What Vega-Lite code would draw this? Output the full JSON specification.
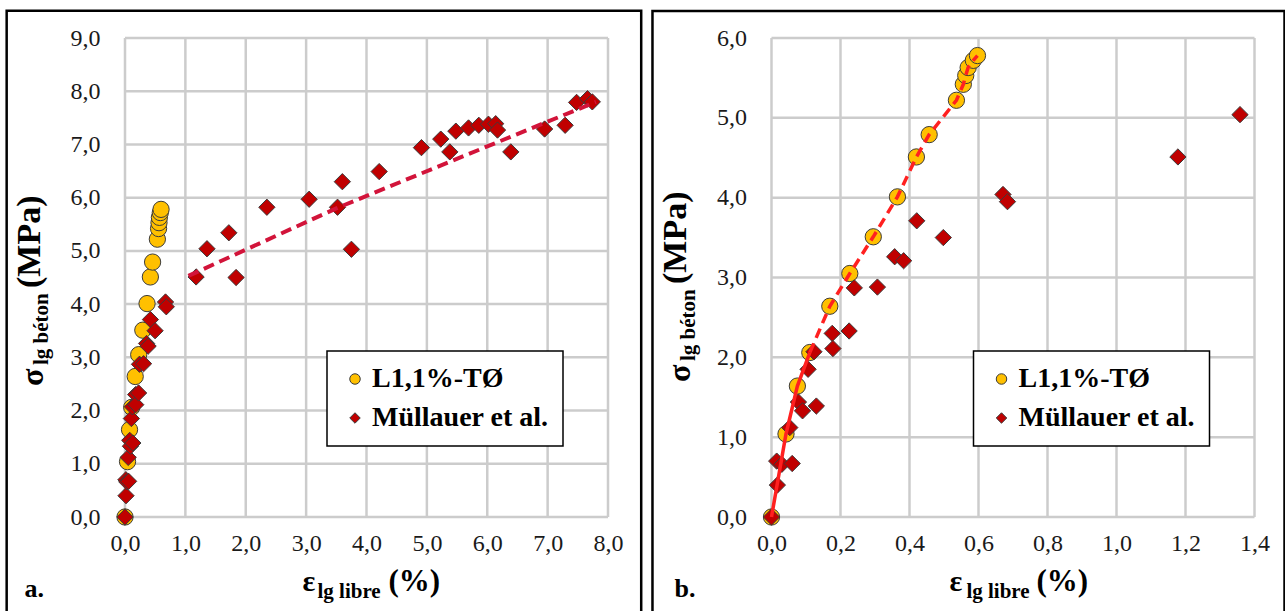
{
  "$schema": "https://vega.github.io/schema/vega-lite/v6.json",
  "padding": {"left": 5, "top": 9, "right": 0, "bottom": 0},
  "background": "white",
  "config": {
    "locale": {"number": {"decimal": ",", "thousands": ".", "grouping": [3], "currency": ["", " €"]}},
    "view": {"stroke": null},
    "axis": {"labelFont": "Liberation Serif", "labelFontSize": 24, "labelColor": "#1a1a1a", "grid": false, "domain": false, "ticks": false, "labelFlush": false, "labelOverlap": false},
    "legend": {"strokeColor": "#000", "strokeWidth": 1.5, "fillColor": "#ffffff", "padding": 14, "labelFont": "Liberation Serif", "labelFontSize": 28, "labelFontWeight": "bold", "labelColor": "#000", "labelLimit": 400, "symbolSize": 110, "symbolStrokeColor": "#3b3b3b", "symbolStrokeWidth": 1, "rowPadding": 11, "labelOffset": 3},
    "text": {"font": "Liberation Serif", "fontWeight": "bold", "color": "#000"}
  },
  "datasets": {
    "pts": [
      {"x": 0, "y": 0, "serie": "L1,1%-TØ"},
      {"x": 0.042, "y": 1.04, "serie": "L1,1%-TØ"},
      {"x": 0.075, "y": 1.64, "serie": "L1,1%-TØ"},
      {"x": 0.111, "y": 2.06, "serie": "L1,1%-TØ"},
      {"x": 0.169, "y": 2.64, "serie": "L1,1%-TØ"},
      {"x": 0.227, "y": 3.05, "serie": "L1,1%-TØ"},
      {"x": 0.295, "y": 3.51, "serie": "L1,1%-TØ"},
      {"x": 0.365, "y": 4.01, "serie": "L1,1%-TØ"},
      {"x": 0.42, "y": 4.51, "serie": "L1,1%-TØ"},
      {"x": 0.457, "y": 4.79, "serie": "L1,1%-TØ"},
      {"x": 0.536, "y": 5.22, "serie": "L1,1%-TØ"},
      {"x": 0.556, "y": 5.42, "serie": "L1,1%-TØ"},
      {"x": 0.563, "y": 5.53, "serie": "L1,1%-TØ"},
      {"x": 0.57, "y": 5.63, "serie": "L1,1%-TØ"},
      {"x": 0.585, "y": 5.72, "serie": "L1,1%-TØ"},
      {"x": 0.597, "y": 5.78, "serie": "L1,1%-TØ"},
      {"x": 0, "y": 0, "serie": "Müllauer et al."},
      {"x": 0.017, "y": 0.4, "serie": "Müllauer et al."},
      {"x": 0.015, "y": 0.7, "serie": "Müllauer et al."},
      {"x": 0.03, "y": 0.66, "serie": "Müllauer et al."},
      {"x": 0.06, "y": 0.67, "serie": "Müllauer et al."},
      {"x": 0.053, "y": 1.12, "serie": "Müllauer et al."},
      {"x": 0.078, "y": 1.44, "serie": "Müllauer et al."},
      {"x": 0.09, "y": 1.33, "serie": "Müllauer et al."},
      {"x": 0.13, "y": 1.39, "serie": "Müllauer et al."},
      {"x": 0.106, "y": 1.85, "serie": "Müllauer et al."},
      {"x": 0.123, "y": 2.07, "serie": "Müllauer et al."},
      {"x": 0.176, "y": 2.3, "serie": "Müllauer et al."},
      {"x": 0.178, "y": 2.11, "serie": "Müllauer et al."},
      {"x": 0.225, "y": 2.33, "serie": "Müllauer et al."},
      {"x": 0.24, "y": 2.87, "serie": "Müllauer et al."},
      {"x": 0.307, "y": 2.88, "serie": "Müllauer et al."},
      {"x": 0.357, "y": 3.26, "serie": "Müllauer et al."},
      {"x": 0.383, "y": 3.21, "serie": "Müllauer et al."},
      {"x": 0.421, "y": 3.71, "serie": "Müllauer et al."},
      {"x": 0.498, "y": 3.5, "serie": "Müllauer et al."},
      {"x": 0.671, "y": 4.04, "serie": "Müllauer et al."},
      {"x": 0.684, "y": 3.95, "serie": "Müllauer et al."},
      {"x": 1.178, "y": 4.51, "serie": "Müllauer et al."},
      {"x": 1.358, "y": 5.04, "serie": "Müllauer et al."},
      {"x": 1.72, "y": 5.34, "serie": "Müllauer et al."},
      {"x": 1.84, "y": 4.5, "serie": "Müllauer et al."},
      {"x": 2.35, "y": 5.82, "serie": "Müllauer et al."},
      {"x": 3.05, "y": 5.97, "serie": "Müllauer et al."},
      {"x": 3.52, "y": 5.82, "serie": "Müllauer et al."},
      {"x": 3.6, "y": 6.3, "serie": "Müllauer et al."},
      {"x": 3.75, "y": 5.03, "serie": "Müllauer et al."},
      {"x": 4.21, "y": 6.49, "serie": "Müllauer et al."},
      {"x": 4.91, "y": 6.94, "serie": "Müllauer et al."},
      {"x": 5.23, "y": 7.1, "serie": "Müllauer et al."},
      {"x": 5.38, "y": 6.86, "serie": "Müllauer et al."},
      {"x": 5.48, "y": 7.25, "serie": "Müllauer et al."},
      {"x": 5.69, "y": 7.31, "serie": "Müllauer et al."},
      {"x": 5.86, "y": 7.36, "serie": "Müllauer et al."},
      {"x": 6.02, "y": 7.38, "serie": "Müllauer et al."},
      {"x": 6.14, "y": 7.39, "serie": "Müllauer et al."},
      {"x": 6.17, "y": 7.27, "serie": "Müllauer et al."},
      {"x": 6.39, "y": 6.86, "serie": "Müllauer et al."},
      {"x": 6.95, "y": 7.29, "serie": "Müllauer et al."},
      {"x": 7.29, "y": 7.36, "serie": "Müllauer et al."},
      {"x": 7.48, "y": 7.79, "serie": "Müllauer et al."},
      {"x": 7.66, "y": 7.86, "serie": "Müllauer et al."},
      {"x": 7.74, "y": 7.8, "serie": "Müllauer et al."}
    ],
    "trendA": [
      {"x": 1.05, "y": 4.53},
      {"x": 3.5, "y": 5.8},
      {"x": 7.8, "y": 7.8}
    ],
    "gridXA": [{"v": 0}, {"v": 1}, {"v": 2}, {"v": 3}, {"v": 4}, {"v": 5}, {"v": 6}, {"v": 7}, {"v": 8}],
    "gridYA": [{"v": 0}, {"v": 1}, {"v": 2}, {"v": 3}, {"v": 4}, {"v": 5}, {"v": 6}, {"v": 7}, {"v": 8}, {"v": 9}],
    "gridXB": [{"v": 0}, {"v": 0.2}, {"v": 0.4}, {"v": 0.6}, {"v": 0.8}, {"v": 1}, {"v": 1.2}, {"v": 1.4}],
    "gridYB": [{"v": 0}, {"v": 1}, {"v": 2}, {"v": 3}, {"v": 4}, {"v": 5}, {"v": 6}]
  },
  "spacing": 7.5,
  "resolve": {
    "scale": {"x": "independent", "y": "independent", "color": "independent", "shape": "independent"},
    "legend": {"color": "independent", "shape": "independent"}
  },
  "hconcat": [
    {
      "width": 483,
      "height": 479,
      "layer": [
        {
          "data": {"name": "gridXA"},
          "mark": {"type": "rule", "color": "#cccccc", "strokeWidth": 2.5},
          "encoding": {
            "x": {"field": "v", "type": "quantitative", "scale": {"domain": [0, 8], "nice": false, "zero": false}, "axis": {"title": null, "values": [0, 1, 2, 3, 4, 5, 6, 7, 8], "format": ".1f", "labelPadding": 14}},
            "y": {"datum": 0, "type": "quantitative", "scale": {"domain": [0, 9], "nice": false, "zero": false}, "axis": {"title": null, "values": [0, 1, 2, 3, 4, 5, 6, 7, 8, 9], "format": ".1f", "labelPadding": 25}},
            "y2": {"datum": 9}
          }
        },
        {
          "data": {"name": "gridYA"},
          "mark": {"type": "rule", "color": "#cccccc", "strokeWidth": 2.5},
          "encoding": {
            "y": {"field": "v", "type": "quantitative"},
            "x": {"datum": 0, "type": "quantitative"},
            "x2": {"datum": 8}
          }
        },
        {
          "data": {"name": "pts"},
          "mark": {"type": "point", "filled": true, "opacity": 1, "size": 265, "stroke": "#3b3b3b", "strokeWidth": 1},
          "encoding": {
            "x": {"field": "x", "type": "quantitative"},
            "y": {"field": "y", "type": "quantitative"},
            "color": {"field": "serie", "type": "nominal", "scale": {"domain": ["L1,1%-TØ", "Müllauer et al."], "range": ["#FFC000", "#C00000"]}, "legend": {"orient": "none", "legendX": 202, "legendY": 313, "title": null}},
            "shape": {"field": "serie", "type": "nominal", "scale": {"domain": ["L1,1%-TØ", "Müllauer et al."], "range": ["circle", "diamond"]}, "legend": {"orient": "none", "legendX": 202, "legendY": 313, "title": null}}
          }
        },
        {
          "data": {"values": [{}]},
          "mark": {"type": "rect", "fill": null, "stroke": "#000", "strokeWidth": 2.5},
          "encoding": {
            "x": {"datum": -1.96, "type": "quantitative"},
            "x2": {"datum": 8.55},
            "y": {"datum": 9.51, "type": "quantitative"},
            "y2": {"datum": -1.82}
          }
        },
        {
          "data": {"name": "trendA"},
          "mark": {"type": "line", "color": "#D2143A", "strokeWidth": 4, "strokeDash": [11, 6]},
          "encoding": {
            "x": {"field": "x", "type": "quantitative"},
            "y": {"field": "y", "type": "quantitative"}
          }
        },
        {
          "data": {"values": [{}]},
          "mark": {"type": "text", "text": "a.", "fontSize": 26, "align": "left", "baseline": "alphabetic"},
          "encoding": {"x": {"datum": -1.665, "type": "quantitative"}, "y": {"datum": -1.503, "type": "quantitative"}}
        },
        {
          "data": {"values": [{}]},
          "mark": {"type": "text", "text": "ε", "fontSize": 30, "align": "left", "baseline": "alphabetic"},
          "encoding": {"x": {"datum": 2.94, "type": "quantitative"}, "y": {"datum": -1.39, "type": "quantitative"}}
        },
        {
          "data": {"values": [{}]},
          "mark": {"type": "text", "text": "lg libre", "fontSize": 21, "align": "left", "baseline": "alphabetic"},
          "encoding": {"x": {"datum": 3.188, "type": "quantitative"}, "y": {"datum": -1.522, "type": "quantitative"}}
        },
        {
          "data": {"values": [{}]},
          "mark": {"type": "text", "text": "(%)", "fontSize": 31, "align": "left", "baseline": "alphabetic"},
          "encoding": {"x": {"datum": 4.364, "type": "quantitative"}, "y": {"datum": -1.39, "type": "quantitative"}}
        },
        {
          "data": {"values": [{}]},
          "mark": {"type": "text", "text": "σ", "fontSize": 32, "align": "left", "baseline": "alphabetic", "angle": 270},
          "encoding": {"x": {"datum": -1.35, "type": "quantitative"}, "y": {"datum": 2.461, "type": "quantitative"}}
        },
        {
          "data": {"values": [{}]},
          "mark": {"type": "text", "text": "lg béton", "fontSize": 21, "align": "left", "baseline": "alphabetic", "angle": 270},
          "encoding": {"x": {"datum": -1.27, "type": "quantitative"}, "y": {"datum": 2.856, "type": "quantitative"}}
        },
        {
          "data": {"values": [{}]},
          "mark": {"type": "text", "text": "(MPa)", "fontSize": 34, "align": "left", "baseline": "alphabetic", "angle": 270},
          "encoding": {"x": {"datum": -1.416, "type": "quantitative"}, "y": {"datum": 4.303, "type": "quantitative"}}
        }
      ]
    },
    {
      "width": 483,
      "height": 479,
      "layer": [
        {
          "data": {"name": "gridXB"},
          "mark": {"type": "rule", "color": "#cccccc", "strokeWidth": 2.5},
          "encoding": {
            "x": {"field": "v", "type": "quantitative", "scale": {"domain": [0, 1.4], "nice": false, "zero": false}, "axis": {"title": null, "values": [0, 0.2, 0.4, 0.6, 0.8, 1, 1.2, 1.4], "format": ".1f", "labelPadding": 14}},
            "y": {"datum": 0, "type": "quantitative", "scale": {"domain": [0, 6], "nice": false, "zero": false}, "axis": {"title": null, "values": [0, 1, 2, 3, 4, 5, 6], "format": ".1f", "labelPadding": 25}},
            "y2": {"datum": 6}
          }
        },
        {
          "data": {"name": "gridYB"},
          "mark": {"type": "rule", "color": "#cccccc", "strokeWidth": 2.5},
          "encoding": {
            "y": {"field": "v", "type": "quantitative"},
            "x": {"datum": 0, "type": "quantitative"},
            "x2": {"datum": 1.4}
          }
        },
        {
          "data": {"name": "pts"},
          "transform": [{"filter": "datum.x <= 1.4"}],
          "mark": {"type": "point", "filled": true, "opacity": 1, "size": 265, "stroke": "#3b3b3b", "strokeWidth": 1},
          "encoding": {
            "x": {"field": "x", "type": "quantitative"},
            "y": {"field": "y", "type": "quantitative"},
            "color": {"field": "serie", "type": "nominal", "scale": {"domain": ["L1,1%-TØ", "Müllauer et al."], "range": ["#FFC000", "#C00000"]}, "legend": {"orient": "none", "legendX": 202, "legendY": 313, "title": null}},
            "shape": {"field": "serie", "type": "nominal", "scale": {"domain": ["L1,1%-TØ", "Müllauer et al."], "range": ["circle", "diamond"]}, "legend": {"orient": "none", "legendX": 202, "legendY": 313, "title": null}}
          }
        },
        {
          "data": {"values": [{}]},
          "mark": {"type": "rect", "fill": null, "stroke": "#000", "strokeWidth": 2.5},
          "encoding": {
            "x": {"datum": -0.345, "type": "quantitative"},
            "x2": {"datum": 1.487},
            "y": {"datum": 6.338, "type": "quantitative"},
            "y2": {"datum": -1.2}
          }
        },
        {
          "data": {"name": "pts"},
          "transform": [{"filter": "datum.serie === 'L1,1%-TØ' && datum.x <= 0.111"}],
          "mark": {"type": "line", "color": "#FF2020", "strokeWidth": 3.5},
          "encoding": {
            "x": {"field": "x", "type": "quantitative"},
            "y": {"field": "y", "type": "quantitative"}
          }
        },
        {
          "data": {"name": "pts"},
          "transform": [{"filter": "datum.serie === 'L1,1%-TØ' && datum.x >= 0.111"}],
          "mark": {"type": "line", "color": "#FF2020", "strokeWidth": 3.5, "strokeDash": [10, 6]},
          "encoding": {
            "x": {"field": "x", "type": "quantitative"},
            "y": {"field": "y", "type": "quantitative"}
          }
        },
        {
          "data": {"values": [{}]},
          "mark": {"type": "text", "text": "b.", "fontSize": 26, "align": "left", "baseline": "alphabetic"},
          "encoding": {"x": {"datum": -0.281, "type": "quantitative"}, "y": {"datum": -1.002, "type": "quantitative"}}
        },
        {
          "data": {"values": [{}]},
          "mark": {"type": "text", "text": "ε", "fontSize": 30, "align": "left", "baseline": "alphabetic"},
          "encoding": {"x": {"datum": 0.516, "type": "quantitative"}, "y": {"datum": -0.927, "type": "quantitative"}}
        },
        {
          "data": {"values": [{}]},
          "mark": {"type": "text", "text": "lg libre", "fontSize": 21, "align": "left", "baseline": "alphabetic"},
          "encoding": {"x": {"datum": 0.565, "type": "quantitative"}, "y": {"datum": -1.015, "type": "quantitative"}}
        },
        {
          "data": {"values": [{}]},
          "mark": {"type": "text", "text": "(%)", "fontSize": 31, "align": "left", "baseline": "alphabetic"},
          "encoding": {"x": {"datum": 0.768, "type": "quantitative"}, "y": {"datum": -0.927, "type": "quantitative"}}
        },
        {
          "data": {"values": [{}]},
          "mark": {"type": "text", "text": "σ", "fontSize": 32, "align": "left", "baseline": "alphabetic", "angle": 270},
          "encoding": {"x": {"datum": -0.236, "type": "quantitative"}, "y": {"datum": 1.691, "type": "quantitative"}}
        },
        {
          "data": {"values": [{}]},
          "mark": {"type": "text", "text": "lg béton", "fontSize": 21, "align": "left", "baseline": "alphabetic", "angle": 270},
          "encoding": {"x": {"datum": -0.222, "type": "quantitative"}, "y": {"datum": 1.954, "type": "quantitative"}}
        },
        {
          "data": {"values": [{}]},
          "mark": {"type": "text", "text": "(MPa)", "fontSize": 34, "align": "left", "baseline": "alphabetic", "angle": 270},
          "encoding": {"x": {"datum": -0.248, "type": "quantitative"}, "y": {"datum": 2.919, "type": "quantitative"}}
        }
      ]
    }
  ]
}
